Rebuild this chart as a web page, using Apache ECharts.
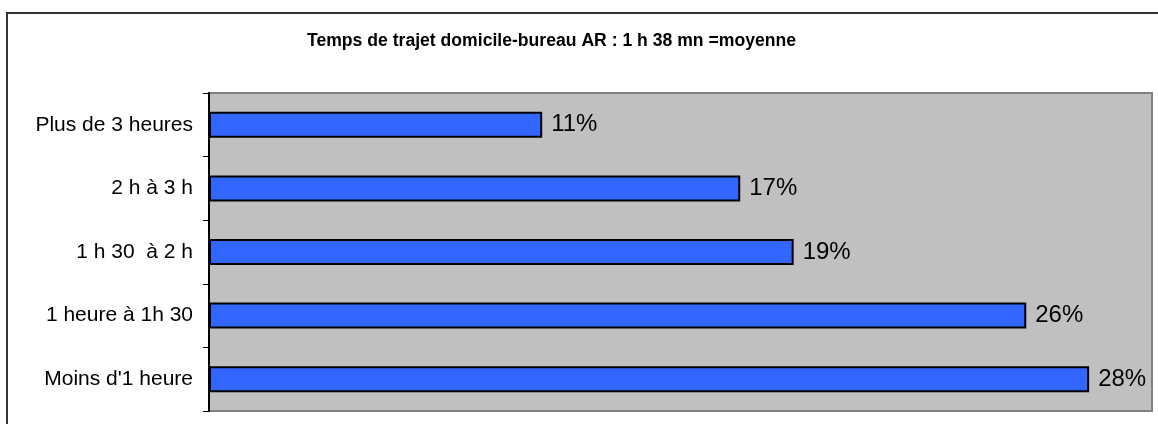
<!DOCTYPE html>
<html>
<head>
<meta charset="utf-8">
<style>
  html, body { margin: 0; padding: 0; background: #ffffff; }
  #chart { width: 1158px; height: 424px; }
</style>
<script src="https://cdn.jsdelivr.net/npm/echarts@6/dist/echarts.min.js"></script>
</head>
<body>
<div id="chart"></div>
<script>
// categories top to bottom
const categories = [
  'Plus de 3 heures',
  '2 h à 3 h',
  '1 h 30  à 2 h',
  '1 heure à 1h 30',
  "Moins d'1 heure",
];
// share of respondents (%); labels show rounded values
const shares = [10.6, 16.9, 18.6, 26.0, 28.0];

const titleText = 'Temps de trajet domicile-bureau AR : 1 h 38 mn =moyenne';

const chart = echarts.init(document.getElementById('chart'));

chart.setOption({
  animation: false,
  backgroundColor: '#ffffff',
  textStyle: { fontFamily: 'Liberation Sans, Arial, sans-serif' },
  title: {
    text: titleText,
    left: 302,
    top: 27,
    textStyle: {
      fontFamily: 'Liberation Sans, Arial, sans-serif',
      fontSize: 17.6,
      fontWeight: 'bold',
      color: '#000000',
    },
  },
  graphic: [
    {
      type: 'rect',
      silent: true,
      z: -1,
      shape: { x: 7, y: 13, width: 1170, height: 430 },
      style: { fill: 'none', stroke: '#333333', lineWidth: 2 },
    },
  ],
  grid: {
    left: 209,
    right: 6,
    top: 93,
    bottom: 13,
    show: true,
    backgroundColor: '#c0c0c0',
    borderColor: '#808080',
    borderWidth: 2,
  },
  xAxis: {
    type: 'value',
    min: 0,
    max: 30,
    show: false,
  },
  yAxis: {
    type: 'category',
    inverse: true,
    data: categories,
    axisLine: { show: true, lineStyle: { color: '#000000', width: 2 } },
    axisTick: { show: true, length: 6, lineStyle: { color: '#000000' } },
    axisLabel: {
      margin: 16,
      color: '#000000',
      fontSize: 21,
      fontFamily: 'Liberation Sans, Arial, sans-serif',
    },
    splitLine: { show: false },
  },
  series: [
    {
      type: 'bar',
      data: shares,
      barWidth: 26,
      itemStyle: { color: '#3366ff', borderColor: '#000000', borderWidth: 2 },
      label: {
        show: true,
        position: 'right',
        distance: 9,
        color: '#000000',
        fontSize: 24,
        fontFamily: 'Liberation Sans, Arial, sans-serif',
        formatter: (p) => Math.round(p.value) + '%',
      },
    },
  ],
});
</script>
</body>
</html>
